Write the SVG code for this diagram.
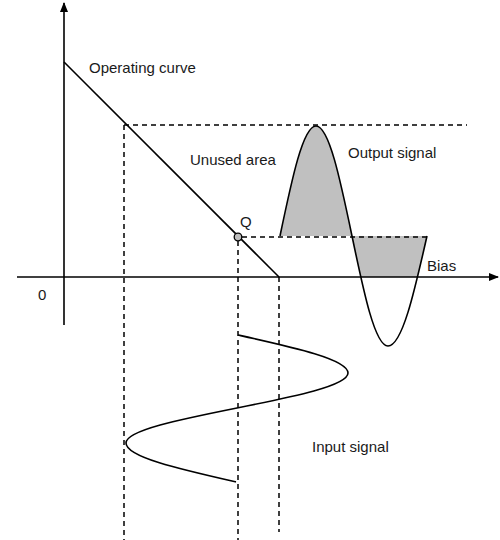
<svg xmlns="http://www.w3.org/2000/svg" width="500" height="540" viewBox="0 0 500 540">
<style>
.ln{fill:none;stroke:#000;stroke-width:1.6}
.ds{fill:none;stroke:#000;stroke-width:1.5;stroke-dasharray:5 4}
.fl{fill:#c0c0c0;stroke:none}
text{font-family:"Liberation Sans",Arial,sans-serif;font-size:15px;fill:#1a1a1a}
</style>
<defs>
<marker id="ah" viewBox="0 0 10 10" refX="9" refY="5" markerWidth="10" markerHeight="10" markerUnits="userSpaceOnUse" orient="auto">
<path d="M0,1 L10,5 L0,9 Z" fill="#000"/>
</marker>
<clipPath id="above"><rect x="0" y="0" width="500" height="277"/></clipPath>
</defs>
<rect width="500" height="540" fill="#fff"/>
<g id="fills">
<path class="fl" d="M280,236 C291.74,179.65 302.97,126 316,126 C329.03,126 340.26,179.65 352,236 Z"/>
<path class="fl" clip-path="url(#above)" d="M352,236 C363.74,292.35 374.97,346 388,346 C402.1,346 414.3,292.35 427,236 Z"/>
</g>
<g id="connectors">
<line class="ds" x1="124" y1="125" x2="467" y2="125"/>
<line class="ds" x1="242" y1="237" x2="427" y2="237"/>
<line class="ds" x1="124" y1="125" x2="124" y2="540"/>
<line class="ds" x1="238" y1="241" x2="238" y2="540"/>
<line class="ds" x1="279" y1="277" x2="279" y2="532"/>
</g>
<g id="axes">
<line class="ln" x1="64" y1="325" x2="64" y2="3" marker-end="url(#ah)"/>
<line class="ln" x1="17" y1="277" x2="498" y2="277" marker-end="url(#ah)"/>
<text x="38" y="300">0</text>
</g>
<g id="operating-curve">
<line class="ln" x1="64" y1="62" x2="279" y2="277"/>
<text x="89" y="73">Operating curve</text>
</g>
<g id="q-point">
<circle cx="238" cy="237" r="3.8" fill="#bdbdbd" stroke="#000" stroke-width="1.3"/>
<text x="240" y="227">Q</text>
</g>
<g id="output-signal">
<path class="ln" d="M280,236 C291.74,179.65 302.97,126 316,126 C329.03,126 340.26,179.65 352,236 C363.74,292.35 374.97,346 388,346 C402.1,346 414.3,292.35 427,236"/>
<text x="348" y="158">Output signal</text>
</g>
<g id="bias">
<text x="427" y="271">Bias</text>
</g>
<g id="unused-area">
<text x="190" y="165">Unused area</text>
</g>
<g id="input-signal">
<path class="ln" d="M238,335 C293.87,347.39 348,359.25 348,373 C348,385.67 293.87,396.59 237,408 C180.13,419.41 126,430.33 126,443 C126,457.11 180.13,469.28 236,482"/>
<text x="312" y="452">Input signal</text>
</g>
</svg>
